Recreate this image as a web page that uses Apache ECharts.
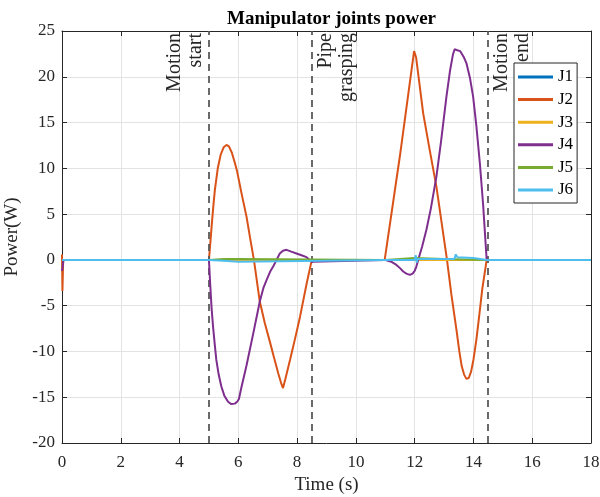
<!DOCTYPE html>
<html>
<head>
<meta charset="utf-8">
<script src="https://cdn.jsdelivr.net/npm/echarts@6/dist/echarts.min.js"></script>
<style>html,body{margin:0;padding:0;background:#fff}#chart{width:600px;height:497px}</style>
</head>
<body>
<div id="chart"></div>
<script>
// ---- data ----
const seriesNames = ['J1', 'J2', 'J3', 'J4', 'J5', 'J6'];
const seriesColors = ['#0072BD', '#D95319', '#EDB120', '#7E2F8E', '#77AC30', '#4DBEEE'];

const j1Time = [0, 5, 8.5, 11, 14.5, 18];
const j1Power = [0, 0, 0, 0, 0, 0];

const j2Time = [0, 0.015, 0.04, 5.0, 5.05, 5.1, 5.15, 5.2, 5.3, 5.4, 5.5, 5.6, 5.68, 5.78, 5.88, 5.95, 6.1, 6.28, 6.4, 6.53,
  6.73, 6.9, 7.07, 7.2, 7.36, 7.45, 7.52, 7.6, 7.76, 7.93, 8.1, 8.33, 8.5,
  10.98, 11.5, 11.98, 12.05, 12.29, 12.5, 12.74, 13.1, 13.25, 13.42, 13.52, 13.6, 13.68, 13.76, 13.84, 13.92, 14.0, 14.1, 14.2, 14.3, 14.45, 18];
const j2Power = [0.6, -3.4, 0, 0, 2.0, 4.0, 5.9, 7.6, 10.0, 11.5, 12.3, 12.55, 12.4, 11.7, 10.6, 9.8, 7.4, 4.7, 2.4, 0,
  -4.55, -6.9, -8.9, -10.5, -12.4, -13.4, -14.0, -13.0, -10.9, -8.6, -6.2, -2.5, 0,
  0, 11.4, 22.8, 22.1, 16.0, 12.2, 8.0, 0, -3.8, -7.6, -10.0, -11.6, -12.5, -13.0, -12.9, -12.2, -10.9, -8.7, -6.0, -3.2, 0, 0];

const j3Time = [0, 5, 8.5, 11, 14.5, 18];
const j3Power = [0, 0, 0, 0, 0, 0];

const j4Time = [0, 0.02, 0.05, 5.0, 5.04, 5.09, 5.14, 5.2, 5.25, 5.33, 5.42, 5.52, 5.65, 5.76, 5.88, 5.96, 6.02, 6.1, 6.28, 6.51, 6.73, 6.86, 6.96, 7.08, 7.19, 7.3, 7.41, 7.52, 7.64, 7.8, 7.98, 8.15, 8.32, 8.5, 8.55,
  10.98, 11.2, 11.38, 11.5, 11.61, 11.72, 11.84, 11.93, 12.0, 12.06, 12.12, 12.25, 12.4, 12.55, 12.74, 12.9, 13.08, 13.2, 13.3, 13.36, 13.4, 13.45, 13.5, 13.55, 13.6, 13.68, 13.76, 13.88, 13.99, 14.1, 14.22, 14.33, 14.45, 18];
const j4Power = [-1.2, -0.8, 0, 0, -2.5, -5.3, -7.3, -9.3, -10.9, -12.5, -13.8, -14.8, -15.5, -15.75, -15.7, -15.5, -15.2, -14.0, -11.5, -8.0, -4.55, -3.0, -2.2, -1.3, -0.7, 0, 0.7, 1.0, 1.1, 0.9, 0.7, 0.5, 0.3, -0.2, 0,
  0, -0.2, -0.55, -0.9, -1.27, -1.5, -1.64, -1.5, -1.2, -0.7, 0, 1.4, 3.3, 5.6, 9.1, 13.0, 17.8, 20.6, 22.4, 23.0, 22.8, 22.9, 23.0, 22.8, 22.6, 22.1, 21.5, 19.9, 17.8, 14.6, 10.5, 6.0, 0, 0];

const j5Time = [0, 5.0, 5.5, 6.0, 6.05, 11.0, 12.0, 13.0, 14.45, 18];
const j5Power = [0, 0, 0.1, 0.1, 0, 0, 0.2, 0.1, 0, 0];

const j6Time = [0, 5.0, 5.5, 6.0, 6.05, 11.0, 12.0, 12.04, 12.07, 12.1, 13.35, 13.4, 13.45, 14.0, 14.45, 18];
const j6Power = [0, 0, -0.1, -0.2, 0, 0, 0, 0.5, -0.3, 0.1, 0.1, 0.6, 0.3, 0.2, 0, 0];

const eventTimes = [5, 8.5, 14.5];
const eventLabels = ['Motion\nstart', 'Pipe\ngrasping', 'Motion\nend'];
const eventLabelSide = ['left', 'right', 'right'];

const xMin = 0, xMax = 18, xStep = 2;
const yMin = -20, yMax = 25, yStep = 5;

// ---- chart ----
const FONT = '"Liberation Serif", "Times New Roman", serif';
const AX = '#262626';
const chart = echarts.init(document.getElementById('chart'), null, { renderer: 'canvas' });

const times = [j1Time, j2Time, j3Time, j4Time, j5Time, j6Time];
const powers = [j1Power, j2Power, j3Power, j4Power, j5Power, j6Power];

const lineSeries = seriesNames.map((name, i) => ({
  name: name,
  type: 'line',
  xAxisIndex: 0,
  yAxisIndex: 0,
  data: times[i].map((t, k) => [t, powers[i][k]]),
  showSymbol: false,
  symbol: 'none',
  lineStyle: { color: seriesColors[i], width: 2 },
  itemStyle: { color: seriesColors[i] },
  animation: false,
  z: 3 + i
}));

const eventSeries = {
  name: 'events',
  type: 'line',
  data: [],
  xAxisIndex: 0,
  yAxisIndex: 0,
  silent: true,
  animation: false,
  markLine: {
    silent: true,
    symbol: ['none', 'none'],
    label: { show: false },
    lineStyle: { color: '#5a5a5a', type: [7, 5], width: 1.8 },
    data: eventTimes.map(t => ({ xAxis: t }))
  },
  z: 2
};

const axisCommon = {
  type: 'value',
  axisLine: { show: true, onZero: false, lineStyle: { color: AX, width: 1 } },
  axisTick: { show: true, inside: true, length: 5, lineStyle: { color: AX, width: 1 } },
  axisLabel: { color: AX, fontFamily: FONT, fontSize: 17 },
  splitLine: { show: true, lineStyle: { color: '#e3e3e3', width: 1 } }
};

chart.setOption({
  backgroundColor: '#ffffff',
  animation: false,
  title: {
    text: 'Manipulator joints power',
    left: 326.5,
    top: 5,
    textAlign: 'center',
    textStyle: { fontFamily: FONT, fontSize: 19, fontWeight: 'bold', color: '#000' }
  },
  grid: { left: 62, right: 9, top: 31, bottom: 54, containLabel: false, outerBoundsMode: 'none' },
  legend: {
    data: seriesNames,
    orient: 'vertical',
    left: 514,
    top: 63,
    width: 64,
    padding: [5, 4, 4, 4],
    itemGap: 4.6,
    itemWidth: 35,
    itemHeight: 3,
    icon: 'rect',
    backgroundColor: '#ffffff',
    borderColor: AX,
    borderWidth: 1,
    textStyle: { fontFamily: FONT, fontSize: 17, color: '#000', lineHeight: 18 }
  },
  xAxis: [
    Object.assign({}, axisCommon, {
      min: xMin, max: xMax, interval: xStep, position: 'bottom',
      name: 'Time (s)', nameLocation: 'middle', nameGap: 25,
      nameTextStyle: { fontFamily: FONT, fontSize: 19, color: AX },
      axisLabel: Object.assign({}, axisCommon.axisLabel, { margin: 11 })
    }),
    Object.assign({}, axisCommon, {
      min: xMin, max: xMax, interval: xStep, position: 'top',
      axisLabel: { show: false }, splitLine: { show: false }
    })
  ],
  yAxis: [
    Object.assign({}, axisCommon, {
      min: yMin, max: yMax, interval: yStep, position: 'left',
      name: 'Power(W)', nameLocation: 'middle', nameGap: 29, nameRotate: 90,
      nameTextStyle: { fontFamily: FONT, fontSize: 19, color: AX },
      axisLabel: Object.assign({}, axisCommon.axisLabel, { margin: 7 })
    }),
    Object.assign({}, axisCommon, {
      min: yMin, max: yMax, interval: yStep, position: 'right',
      axisLabel: { show: false }, splitLine: { show: false }
    })
  ],
  series: lineSeries.concat([eventSeries])
});

// annotation texts placed via the axis scale
const topY = chart.convertToPixel({ yAxisIndex: 0 }, yMax);
const graphics = eventTimes.map((t, i) => {
  const px = chart.convertToPixel({ xAxisIndex: 0 }, t);
  const left = eventLabelSide[i] === 'left' ? px - 44.3 : px + 3.5;
  return {
    type: 'text',
    x: left,
    y: topY + 2,
    rotation: Math.PI / 2,
    z: 10,
    style: {
      text: eventLabels[i],
      fontFamily: FONT,
      fontSize: 20,
      lineHeight: 21,
      fill: '#262626',
      align: 'right',
      verticalAlign: 'top'
    }
  };
});
chart.setOption({ graphic: graphics });
</script>
</body>
</html>
